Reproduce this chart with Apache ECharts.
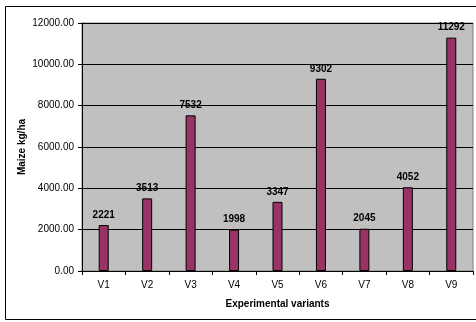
<!DOCTYPE html>
<html><head><meta charset="utf-8">
<script src="https://cdn.jsdelivr.net/npm/echarts@6/dist/echarts.min.js"></script>
<style>html,body{margin:0;padding:0;background:#fff}#c{width:476px;height:322px}</style>
</head><body><div id="c"></div>
<script>
const categories = ['V1','V2','V3','V4','V5','V6','V7','V8','V9'];
const values = [2221, 3513, 7532, 1998, 3347, 9302, 2045, 4052, 11292];
const yTitle = 'Maize kg/ha';
const xTitle = 'Experimental variants';
const chart = echarts.init(document.getElementById('c'));
const F = 'Liberation Sans, Arial, sans-serif';
chart.setOption({
  animation: false,
  graphic: [{type:'polyline', shape:{points:[[476,6.5],[5.5,6.5],[5.5,319.5],[476,319.5]]}, style:{fill:'none', stroke:'#000', lineWidth:1}, z:-1}],
  grid: {left:82, right:3, top:23, bottom:51, show:true, backgroundColor:'#c0c0c0', borderColor:'#808080', borderWidth:1},
  xAxis: {type:'category', data:categories, name:xTitle, nameLocation:'middle', nameGap:28, nameMoveOverlap:false,
    nameTextStyle:{fontFamily:F, fontSize:10, fontWeight:'bold', color:'#000'},
    axisLine:{lineStyle:{color:'#000'}}, axisTick:{show:true, alignWithLabel:false, length:4, lineStyle:{color:'#000'}},
    axisLabel:{fontFamily:F, fontSize:10, color:'#000', margin:9}},
  yAxis: {type:'value', min:0, max:12000, interval:2000, name:yTitle, nameLocation:'middle', nameGap:55, nameMoveOverlap:false,
    nameTextStyle:{fontFamily:F, fontSize:10, fontWeight:'bold', color:'#000'},
    axisLine:{show:true, lineStyle:{color:'#000'}}, axisTick:{show:true, length:4, lineStyle:{color:'#000'}},
    axisLabel:{fontFamily:F, fontSize:10, color:'#000', margin:8, formatter:v=>v.toFixed(2)},
    splitLine:{lineStyle:{color:'#000', width:1}}},
  series: [{type:'bar', data:values, barWidth:10,
    itemStyle:{color:'#993366', borderColor:'#000', borderWidth:1},
    label:{show:true, position:'top', distance:5, fontFamily:F, fontSize:10, fontWeight:'bold', color:'#000'}}]
});
</script></body></html>
